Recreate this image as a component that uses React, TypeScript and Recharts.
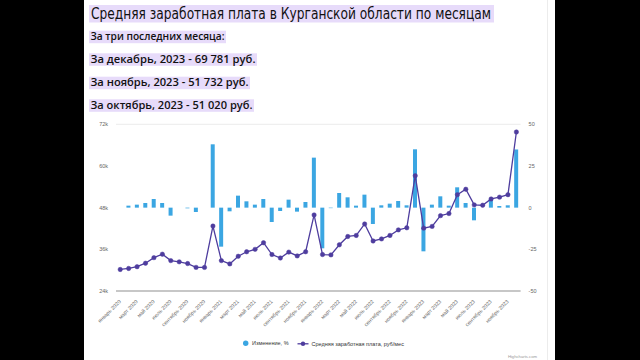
import React from "react"
import { ComposedChart, Bar, Line, XAxis, YAxis, CartesianGrid } from "recharts"

const months = ["январь", "февраль", "март", "апрель", "май", "июнь", "июль", "август", "сентябрь", "октябрь", "ноябрь", "декабрь"]
const years = [2020, 2021, 2022, 2023]

// средняя зарплата, руб/мес
const salary2020 = [30200, 30500, 31000, 32000, 33600, 34600, 32750, 32400, 31900, 30800, 30800, 42700]
const salary2021 = [32750, 31800, 34000, 35300, 36000, 37900, 34500, 33500, 35200, 34100, 35300, 45900]
const salary2022 = [34500, 34400, 37300, 39700, 40000, 43300, 38400, 39000, 40000, 41600, 42200, 57200]
const salary2023 = [42100, 42600, 45700, 46300, 51750, 53300, 48800, 48700, 50500, 51020, 51732, 69781]

// изменение к предыдущему месяцу, %
const change2020 = [null, 1.2, 1.8, 2.8, 5.2, 2.8, -4.8, 0, -0.4, -2.6, 0, 38]
const change2021 = [-23.4, -2.2, 7.2, 3.8, 1.8, 5.2, -8.6, -2, 4.8, -2.4, 3.4, 30]
const change2022 = [-24.4, -0.3, 8.8, 6.2, 1.2, 7.8, -9.8, 1.4, 2.4, 4, 1.4, 35]
const change2023 = [-26.2, 1.8, 6.8, 1.2, 12.2, 2.8, -7.6, 0, 5.2, 1, 1.4, 34.9]

const salaryTicks = [24000, 36000, 48000, 60000, 72000]
const changeTicks = [-50, -25, 0, 25, 50]

const title = "Средняя заработная плата в Курганской области по месяцам"
const summaryLines = [
  "За три последних месяца:",
  "За декабрь, 2023 - 69 781 руб.",
  "За ноябрь, 2023 - 51 732 руб.",
  "За октябрь, 2023 - 51 020 руб.",
]

const categories = years.flatMap((y) => months.map((m) => `${m} ${y}`))
const salary = [...salary2020, ...salary2021, ...salary2022, ...salary2023]
const change = [...change2020, ...change2021, ...change2022, ...change2023]
const data = categories.map((month, i) => ({ month, salary: salary[i], change: change[i] }))

const barColor = "#3ba6e2"
const lineColor = "#4e3d9e"
const highlight = "#e7dbfa"
const font = "'DejaVu Sans', sans-serif"
const subFont = "'Open Sans', sans-serif"
const axisFont = "'Liberation Sans', Arial, sans-serif"

const XTick = ({ x, y, payload }: any) => (
  <text
    x={x + 1}
    y={y + 3}
    transform={`rotate(-45 ${x + 1} ${y + 3})`}
    textAnchor="end"
    fontSize={5.2}
    fontFamily={axisFont}
    fill="#666"
  >
    {payload.value}
  </text>
)

const summaryBoxes = [
  { y: 30.7, w: 137 },
  { y: 53.3, w: 168 },
  { y: 76.7, w: 161 },
  { y: 99.3, w: 165 },
]

export default function App() {
  return (
    <div style={{ position: "absolute", left: 0, top: 0, width: 640, height: 360, background: "#fff", overflow: "hidden" }}>
      <ComposedChart
        width={640}
        height={360}
        data={data}
        margin={{ top: 124.3, right: 89.4, left: 86, bottom: 29 }}
        style={{ position: "absolute", left: 0, top: 0 }}
      >
        <CartesianGrid vertical={false} stroke="#e6e6e6" strokeWidth={0.8} />
        <XAxis
          dataKey="month"
          interval={1}
          height={40}
          tickLine={false}
          axisLine={{ stroke: "#999", strokeWidth: 1 }}
          tick={<XTick />}
        />
        <YAxis
          yAxisId="left"
          width={30}
          domain={[24000, 72000]}
          ticks={salaryTicks}
          tickFormatter={(v) => `${v / 1000}k`}
          axisLine={false}
          tickLine={false}
          tick={{ fontSize: 5.5, fill: "#666", fontFamily: axisFont }}
        />
        <YAxis
          yAxisId="right"
          orientation="right"
          width={30}
          domain={[-50, 50]}
          ticks={changeTicks}
          axisLine={false}
          tickLine={false}
          tick={{ fontSize: 5.5, fill: "#666", fontFamily: axisFont }}
        />
        <Bar yAxisId="right" dataKey="change" fill={barColor} barSize={4} isAnimationActive={false} />
        <Line
          yAxisId="left"
          type="linear"
          dataKey="salary"
          stroke={lineColor}
          strokeWidth={1.3}
          dot={{ r: 2.2, fill: lineColor, stroke: lineColor, strokeWidth: 0.5 }}
          isAnimationActive={false}
        />
      </ComposedChart>

      <svg width={640} height={360} style={{ position: "absolute", left: 0, top: 0, pointerEvents: "none" }}>
        <rect x={89} y={5} width={405} height={17.5} fill={highlight} />
        <text x={91} y={18.5} fontSize={16} fontFamily={font} fill="#111" textLength={400} lengthAdjust="spacingAndGlyphs">
          {title}
        </text>
        {summaryLines.map((line, i) => (
          <g key={line}>
            <rect x={89} y={summaryBoxes[i].y} width={summaryBoxes[i].w} height={12.5} fill={highlight} />
            <text
              x={90.5}
              y={summaryBoxes[i].y + 9.4}
              fontSize={11}
              fontWeight={600}
              fontFamily={subFont}
              fill="#111"
              textLength={summaryBoxes[i].w - 3}
              lengthAdjust="spacingAndGlyphs"
            >
              {line}
            </text>
          </g>
        ))}

        {/* legend */}
        <circle cx={245.7} cy={343.3} r={2.7} fill={barColor} />
        <text x={252} y={345.3} fontSize={5.5} fontFamily={axisFont} fill="#333">
          Изменение, %
        </text>
        <line x1={297.5} y1={343.8} x2={308.5} y2={343.8} stroke={lineColor} strokeWidth={1.3} />
        <circle cx={303} cy={343.8} r={2.2} fill={lineColor} />
        <text x={311.5} y={345.8} fontSize={5.5} fontFamily={axisFont} fill="#333">
          Средняя заработная плата, руб/мес
        </text>
        <text x={537} y={357.5} fontSize={4.2} textAnchor="end" fontFamily={axisFont} fill="#999">
          Highcharts.com
        </text>

        <line x1={547.5} y1={0} x2={547.5} y2={360} stroke="#ececec" strokeWidth={1} />
        <rect x={0} y={0} width={84} height={360} fill="#000" />
        <rect x={555} y={0} width={85} height={360} fill="#000" />
      </svg>
    </div>
  )
}
